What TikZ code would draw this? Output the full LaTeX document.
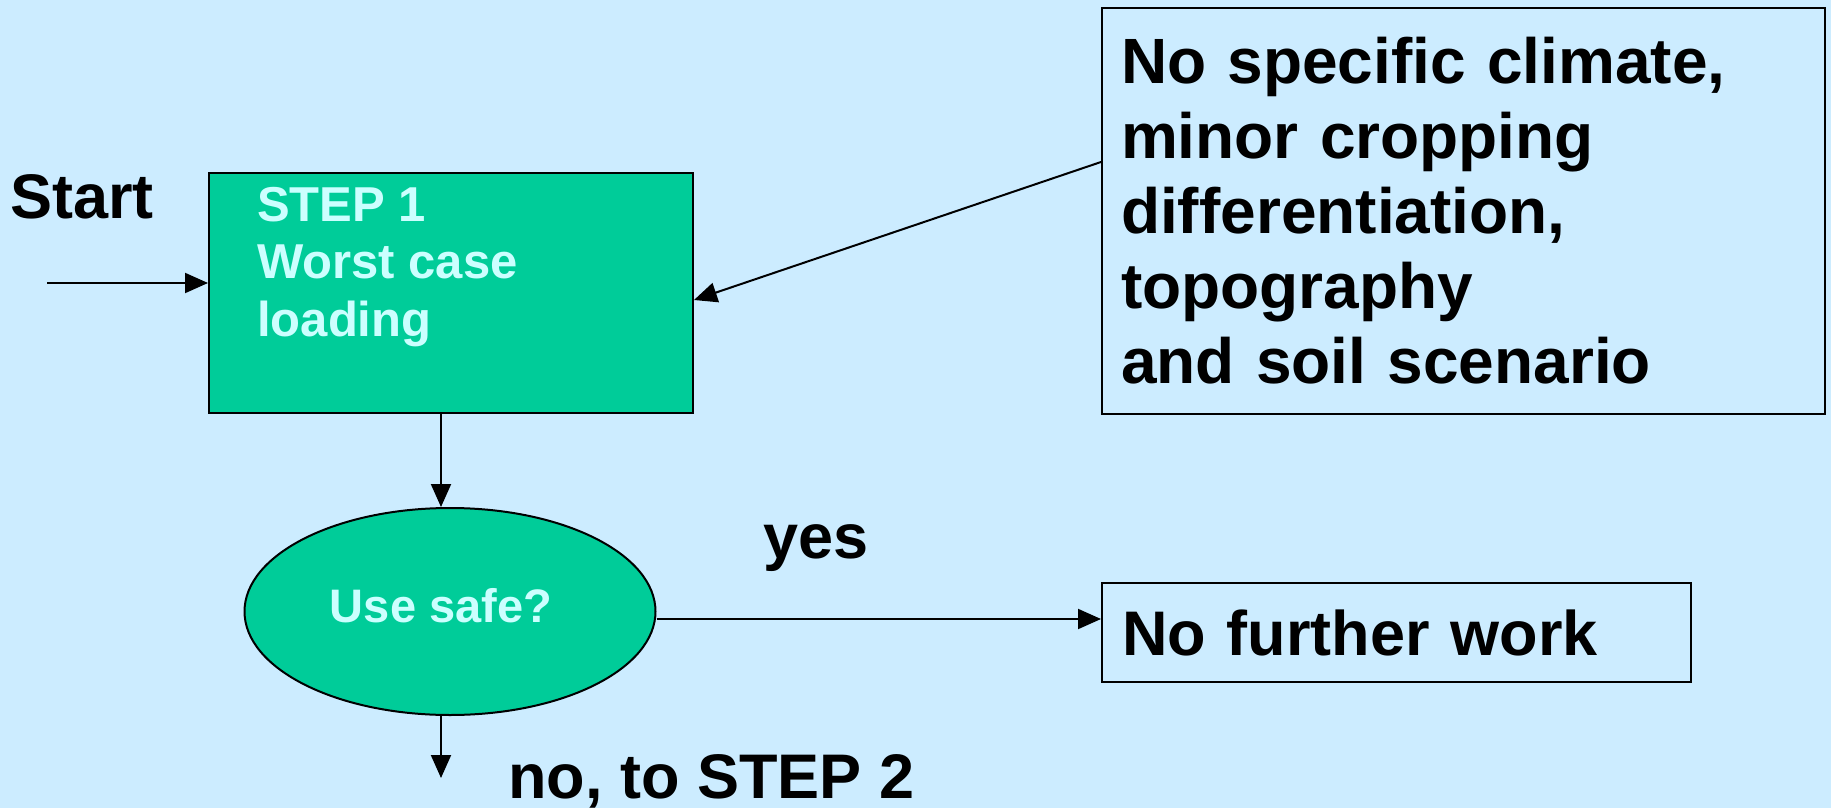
\documentclass[tikz,border=0pt]{standalone}
\usepackage{fontspec}
\setmainfont{Liberation Sans}
\usetikzlibrary{shapes.geometric, arrows.meta, positioning}
\definecolor{slidebg}{RGB}{204, 236, 255}
\definecolor{stepgreen}{RGB}{0, 204, 153}
\definecolor{steplight}{RGB}{204, 255, 255}

\begin{document}
\begin{tikzpicture}[
    x=1pt, y=-1pt,
    stepbox/.style={rectangle, draw=black, line width=2pt, fill=stepgreen, minimum width=484pt, minimum height=240pt, inner sep=0pt},
    decision/.style={ellipse, draw=black, line width=2pt, fill=stepgreen, minimum width=411pt, minimum height=207pt, inner sep=0pt},
    infobox/.style={rectangle, draw=black, line width=2pt, align=left, inner xsep=19pt, font=\bfseries\fontsize{64}{75}\selectfont},
    greentext/.style={text=steplight, inner sep=0pt, align=left, font=\bfseries\fontsize{49}{57.5}\selectfont},
    plaintext/.style={inner sep=0pt, font=\bfseries\fontsize{63}{72}\selectfont},
    arrow/.style={-{Triangle[length=23pt, width=20pt]}, line width=2pt}
]
    % Slide background
    \fill[slidebg] (0,0) rectangle (1831,808);

    % Step 1
    \node[plaintext, anchor=base west] (start) at (10,218) {Start};
    \node[stepbox] (step) at (451,293) {};
    \node[greentext, anchor=north west] (steptxt) at (257,187) {STEP 1\\Worst case\\loading};

    % Scenario box
    \node[infobox, text width=685pt, minimum height=406pt] (scen) at (1463.5,211) {No specific climate,\\minor cropping\\differentiation,\\topography\\and soil scenario};

    % Decision
    \node[decision] (safe) at (450,611.5) {};
    \node[greentext, anchor=base, font=\bfseries\fontsize{47}{56}\selectfont] (safetxt) at (441,622) {Use safe?};

    \node[infobox, inner xsep=20pt, text width=549pt, minimum height=99pt, font=\bfseries\fontsize{63}{72}\selectfont] (done) at (1396.5,632.5) {No further work};
    \node[plaintext, anchor=base west] (yes) at (763,558) {yes};
    \node[plaintext, anchor=base west] (no) at (508,798) {no, to STEP 2};

    % Arrows
    \coordinate (in) at (47,283);
    \coordinate (out) at (441,778);
    \draw[arrow] (in) -- (in -| step.west);
    \draw[arrow] ([yshift=49pt]scen.west) -- ([yshift=-7pt]step.east);
    \draw[arrow] ([xshift=-10pt]step.south) -- ([xshift=-9pt]safe.north);
    \draw[arrow] ([yshift=-7.5pt]safe.east) -- ([yshift=-7.5pt]safe.east -| done.west);
    \draw[arrow] ([xshift=-9pt]safe.south) -- (out);

\end{tikzpicture}
\end{document}
